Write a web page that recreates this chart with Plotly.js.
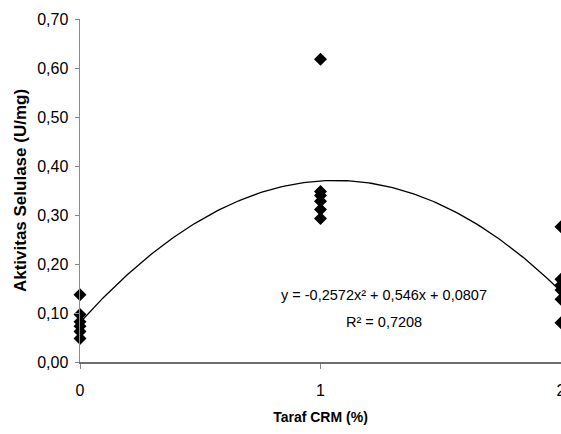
<!DOCTYPE html>
<html>
<head>
<meta charset="utf-8">
<script src="https://cdn.plot.ly/plotly-3.0.1.min.js"></script>
<style>html,body{margin:0;padding:0;background:#fff;}#chart{width:561px;height:434px;}</style>
</head>
<body>
<div id="chart"></div>
<script>
// Observed data (level of CRM %, cellulase activity U/mg)
const xLevel0 = [0, 0, 0, 0, 0, 0];
const yLevel0 = [0.137, 0.097, 0.082, 0.073, 0.062, 0.048];
const xLevel1 = [1, 1, 1, 1, 1, 1];
const yLevel1 = [0.618, 0.348, 0.340, 0.328, 0.311, 0.293];
const xLevel2 = [2, 2, 2, 2, 2, 2];
const yLevel2 = [0.276, 0.169, 0.157, 0.147, 0.128, 0.080];
// Trendline coefficients as printed on the chart: a x^2 + b x + c
const trendCoef = [-0.2572, 0.546, 0.0807];
const xTickVals = [0, 1, 2];
const xTickText = ['0', '1', '2'];
const yTickVals = [0, 0.1, 0.2, 0.3, 0.4, 0.5, 0.6, 0.7];
const eqText = 'y = -0,2572x² + 0,546x + 0,0807';
const r2Text = 'R² = 0,7208';

const FONT = 'Liberation Sans, Arial, sans-serif';

const xs = [].concat(xLevel0, xLevel1, xLevel2);
const ys = [].concat(yLevel0, yLevel1, yLevel2);

const curveX = [], curveY = [];
for (let i = 0; i <= 200; i++) {
  const x = 2 * i / 200;
  curveX.push(x);
  curveY.push(trendCoef[0] * x * x + trendCoef[1] * x + trendCoef[2]);
}

const traces = [
  {x: curveX, y: curveY, mode: 'lines', line: {color: '#000', width: 1.3}, hoverinfo: 'skip', cliponaxis: false},
  {x: xs, y: ys, mode: 'markers', marker: {symbol: 'diamond', size: 10, color: '#000'}, cliponaxis: false}
];

const layout = {
  width: 561, height: 434,
  margin: {l: 80, r: 0, t: 19, b: 72},
  paper_bgcolor: '#fff', plot_bgcolor: '#fff',
  showlegend: false,
  separators: ', ',
  font: {family: FONT, color: '#000', size: 15},
  xaxis: {
    range: [0, 2], tickvals: xTickVals, ticktext: xTickText,
    showgrid: false, zeroline: false, showline: true, linecolor: '#6e6e6e', linewidth: 1.5,
    ticks: 'outside', ticklen: 5, tickcolor: '#868686', tickwidth: 1, ticklabelstandoff: 8,
    ticklabeloverflow: 'allow',
    tickfont: {family: FONT, size: 16, color: '#000'},
    title: {text: '<b>Taraf CRM (%)</b>', font: {family: FONT, size: 14, color: '#000'}, standoff: 14}
  },
  yaxis: {
    range: [0, 0.7], tickvals: yTickVals, tickformat: '.2f',
    showgrid: false, zeroline: false, showline: true, linecolor: '#8a8a8a', linewidth: 1.5,
    ticks: 'outside', ticklen: 4, tickcolor: '#868686', tickwidth: 1, ticklabelstandoff: 3,
    tickfont: {family: FONT, size: 16, color: '#000'},
    title: {text: '<b>Aktivitas Selulase (U/mg)</b>', font: {family: FONT, size: 17, color: '#000'}, standoff: 6}
  },
  annotations: [
    {x: 0.633, y: 0.195, xref: 'paper', yref: 'paper', text: eqText, showarrow: false, xanchor: 'center', yanchor: 'middle', font: {family: FONT, size: 14.5, color: '#000'}},
    {x: 0.633, y: 0.117, xref: 'paper', yref: 'paper', text: r2Text, showarrow: false, xanchor: 'center', yanchor: 'middle', font: {family: FONT, size: 14.5, color: '#000'}}
  ]
};

Plotly.newPlot('chart', traces, layout, {staticPlot: true, displayModeBar: false});
</script>
</body>
</html>
